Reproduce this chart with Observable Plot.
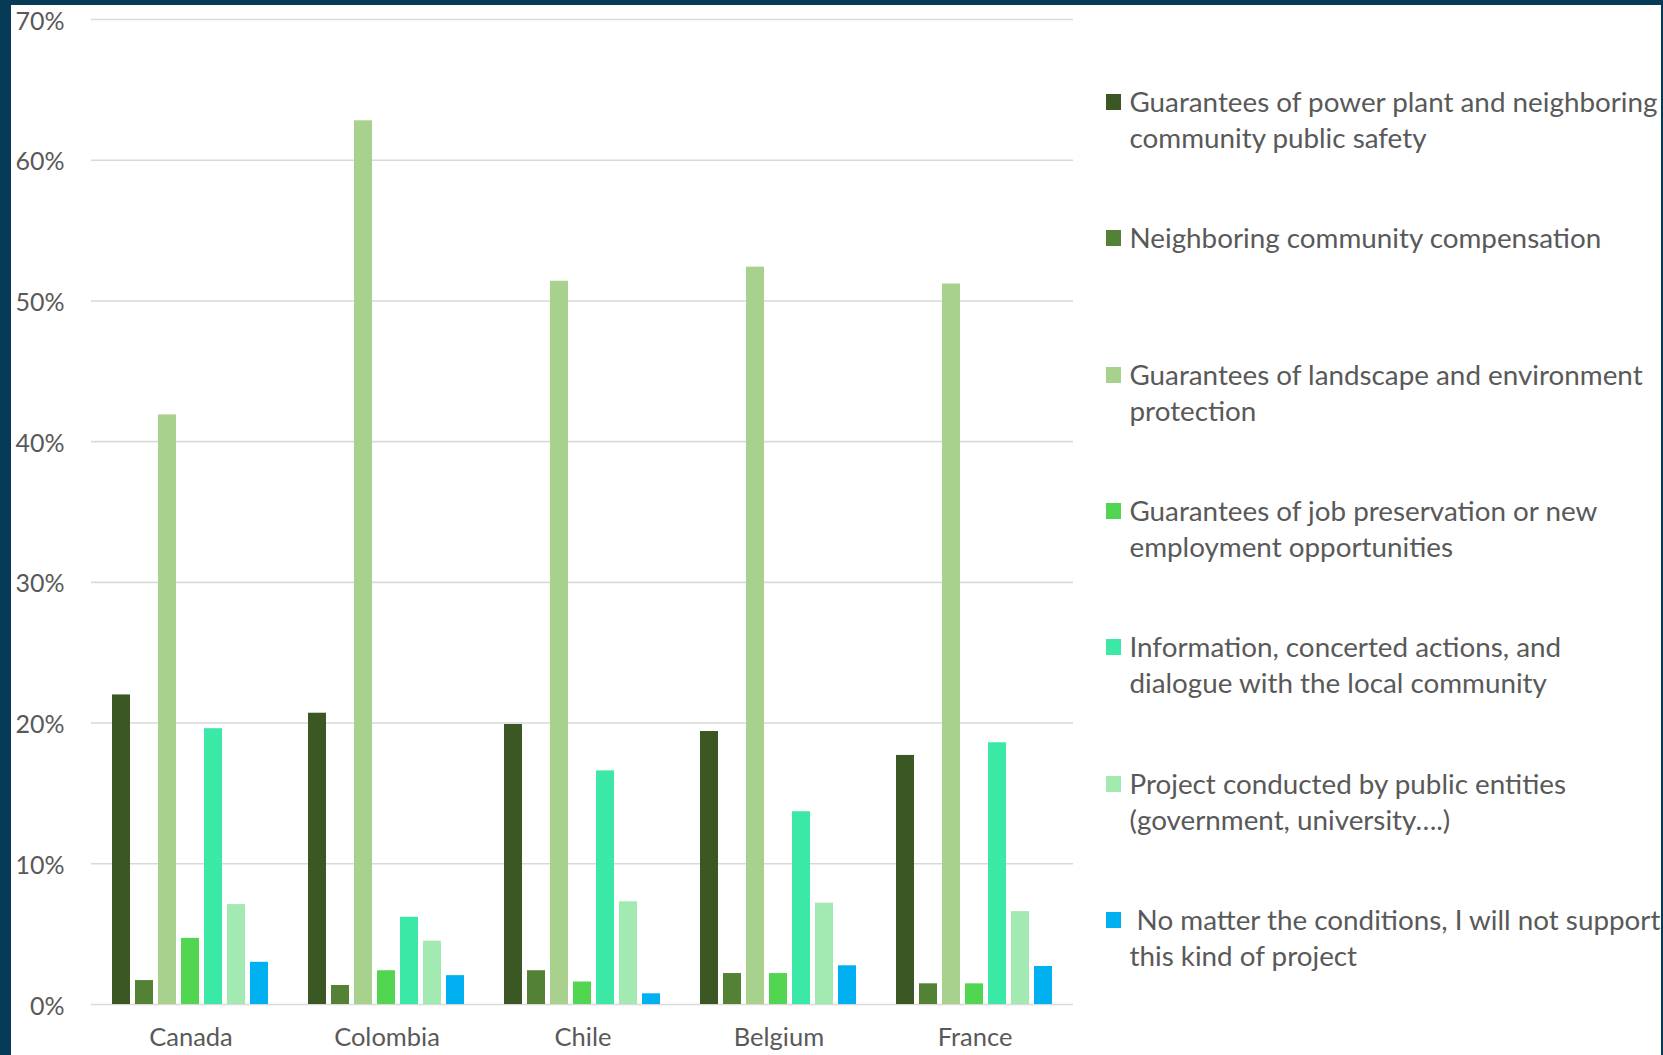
<!DOCTYPE html>
<html>
<head>
<meta charset="utf-8">
<script src="https://cdn.jsdelivr.net/npm/d3@7"></script>
<script src="https://cdn.jsdelivr.net/npm/@observablehq/plot@0.6"></script>
<style>
  html, body { margin: 0; padding: 0; }
  body { width: 1663px; height: 1055px; background: #063B58; position: relative; overflow: hidden; font-family: Lato, "Open Sans", sans-serif; }
  #panel { position: absolute; left: 11px; top: 5px; width: 1650px; height: 1050px; background: #ffffff; overflow: hidden; }
  #grid, #chart { position: absolute; left: 0; top: 0; }
  #legend { position: absolute; left: 1095px; top: 0; }
  .item { position: absolute; left: 0; color: #595959; font-size: 27.8px; line-height: 36px; }
  .item .sw { position: absolute; left: 0; top: 10px; width: 15px; height: 16px; }
  .item .tx { position: absolute; left: 23.5px; top: 0; white-space: pre; }
</style>
</head>
<body>
<div id="panel">
  <div id="grid"></div>
  <div id="chart"></div>
  <div id="legend"></div>
</div>
<script>
const countries = ["Canada", "Colombia", "Chile", "Belgium", "France"];
const series = [
  "Guarantees of power plant and neighboring\ncommunity public safety",
  "Neighboring community compensation",
  "Guarantees of landscape and environment\nprotection",
  "Guarantees of job preservation or new\nemployment opportunities",
  "Information, concerted actions, and\ndialogue with the local community",
  "Project conducted by public entities\n(government, university….)",
  " No matter the conditions, I will not support\nthis kind of project"
];
const colors = ["#3B5723", "#538135", "#A9D18E", "#52D652", "#3BE8A6", "#A2E9B2", "#00B0F0"];
// values in percent, one array per series, in country order
const safety        = [22.0, 20.7, 19.9, 19.4, 17.7];
const compensation  = [1.7, 1.35, 2.4, 2.2, 1.47];
const landscape     = [41.9, 62.8, 51.4, 52.4, 51.2];
const jobs          = [4.7, 2.4, 1.6, 2.2, 1.47];
const information   = [19.6, 6.2, 16.6, 13.7, 18.6];
const publicEntity  = [7.1, 4.5, 7.3, 7.2, 6.6];
const noSupport     = [3.0, 2.05, 0.76, 2.75, 2.7];
const yTicks = [0, 0.1, 0.2, 0.3, 0.4, 0.5, 0.6, 0.7];

const seriesValues = [safety, compensation, landscape, jobs, information, publicEntity, noSupport];
const data = countries.flatMap((c, i) => series.map((s, j) => ({country: c, series: s, value: seriesValues[j][i] / 100})));

const common = {
  width: 1080,
  height: 1050,
  marginLeft: 80,
  marginRight: 18,
  marginTop: 14,
  marginBottom: 51,
  style: {background: "transparent", fontFamily: "Lato, 'Open Sans', sans-serif", color: "#595959", overflow: "visible"},
  y: {domain: [0, 0.7], label: null}
};

// layer 1: continuous gridlines and the value axis
const grid = Plot.plot({
  ...common,
  x: {domain: [0, 1], axis: null},
  marks: [
    Plot.ruleY(yTicks, {stroke: "#d9d9d9", strokeWidth: 1.6}),
    Plot.axisY(yTicks, {tickSize: 0, tickPadding: 27, dy: 2, tickFormat: d3.format(".0%"), fontSize: 25, fill: "#595959", label: null})
  ]
});
document.getElementById("grid").appendChild(grid);

// layer 2: grouped bars
const chart = Plot.plot({
  ...common,
  fx: {domain: countries, paddingInner: 0.17, paddingOuter: 0.079, label: null},
  x: {domain: series, paddingInner: 0.21, paddingOuter: 0.107, axis: null},
  color: {domain: series, range: colors},
  marks: [
    Plot.barY(data, {fx: "country", x: "series", y: "value", fill: "series"}),
    Plot.axisY(yTicks, {tickSize: 0, tickFormat: () => "", label: null}),
    Plot.axisFx({anchor: "bottom", tickSize: 0, tickPadding: 23, fontSize: 25.5, fill: "#595959", label: null})
  ]
});
document.getElementById("chart").appendChild(chart);

const legend = document.getElementById("legend");
series.forEach((s, i) => {
  const item = document.createElement("div");
  item.className = "item";
  item.style.top = (97 + 136.3 * i - 18) + "px";
  const sw = document.createElement("div");
  sw.className = "sw";
  sw.style.background = colors[i];
  const tx = document.createElement("div");
  tx.className = "tx";
  tx.textContent = s;
  item.appendChild(sw);
  item.appendChild(tx);
  legend.appendChild(item);
});
</script>
</body>
</html>
